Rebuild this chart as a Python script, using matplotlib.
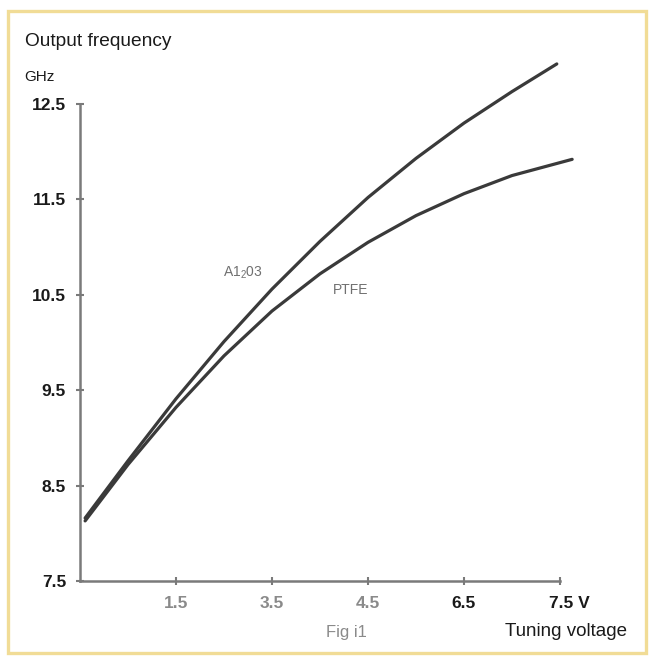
import matplotlib
matplotlib.use("Agg")
import matplotlib.pyplot as plt
from matplotlib.patches import Rectangle
from matplotlib.transforms import ScaledTranslation

plt.rcParams["font.family"] = ["Liberation Sans", "DejaVu Sans"]
plt.rcParams["mathtext.default"] = "regular"

# Tuning voltage (V) and output frequency (GHz) for the two dielectrics
voltage_al2o3 = [0.08, 0.75, 1.5, 2.25, 3.0, 3.75, 4.5, 5.25, 6.0, 6.75, 7.45]
freq_al2o3 = [8.16, 8.76, 9.41, 10.01, 10.56, 11.06, 11.52, 11.93, 12.30, 12.63, 12.92]

voltage_ptfe = [0.08, 0.75, 1.5, 2.25, 3.0, 3.75, 4.5, 5.25, 6.0, 6.75, 7.69]
freq_ptfe = [8.13, 8.72, 9.32, 9.86, 10.33, 10.72, 11.05, 11.33, 11.56, 11.75, 11.92]

x_ticks = [1.5, 3.0, 4.5, 6.0, 7.5]
x_tick_labels = ["1.5", "3.5", "4.5", "6.5", "7.5 V"]
y_ticks = [7.5, 8.5, 9.5, 10.5, 11.5, 12.5]
y_tick_labels = ["7.5", "8.5", "9.5", "10.5", "11.5", "12.5"]

W, H = 650, 657
fig = plt.figure(figsize=(W / 100, H / 100), dpi=100)
fig.patch.set_facecolor("white")

# pale yellow frame around the figure
fig.patches.append(Rectangle((8 / W, 1 - 653 / H), 638 / W, 642 / H,
                             transform=fig.transFigure, fill=False,
                             edgecolor="#f1dc96", lw=2.4))

ax = fig.add_axes([80 / W, (H - 581) / H, 512 / W, 524.7 / H])
ax.set_xlim(0, 8.0)
ax.set_ylim(7.5, 13.0)
ax.patch.set_alpha(0)

line_col = "#3a3a3a"
for v, f in ((voltage_al2o3, freq_al2o3), (voltage_ptfe, freq_ptfe)):
    ax.plot(v, f, color=line_col, lw=2.3,
            solid_capstyle="round", solid_joinstyle="round")

axis_col = "#7a7a7a"
for s in ("top", "right"):
    ax.spines[s].set_visible(False)
ax.spines["left"].set_bounds(7.5, 12.5)
ax.spines["bottom"].set_bounds(0, 7.5)
for s in ("left", "bottom"):
    ax.spines[s].set_color(axis_col)
    ax.spines[s].set_linewidth(1.8)

ax.set_xticks(x_ticks)
ax.set_xticklabels(x_tick_labels, fontsize=12.5, fontweight="bold")
ax.set_yticks(y_ticks)
ax.set_yticklabels(y_tick_labels, fontsize=12.5, fontweight="bold")
ax.tick_params(axis="both", direction="inout", length=6, width=1.5,
               color=axis_col)
ax.tick_params(axis="y", pad=7, labelcolor="#1a1a1a")
ax.tick_params(axis="x", pad=8)

xl = ax.get_xticklabels()
for lab in xl[:3]:
    lab.set_color("#8a8a8a")
for lab in xl[3:]:
    lab.set_color("#1a1a1a")
xl[-1].set_transform(xl[-1].get_transform()
                     + ScaledTranslation(9 / 100, 0, fig.dpi_scale_trans))

# curve labels
ax.text(2.23, 10.73, "A1$_{2}$03", fontsize=10, color="#707070",
        ha="left", va="center")
ax.text(3.95, 10.55, "PTFE", fontsize=10, color="#707070",
        ha="left", va="center")

# axis titles and caption
fig.text(25 / W, 1 - 42 / H, "Output frequency", fontsize=13.8,
         color="#1a1a1a", ha="left", va="center")
fig.text(24 / W, 1 - 77 / H, "GHz", fontsize=11, color="#1a1a1a",
         ha="left", va="center")
fig.text(627 / W, 1 - 632 / H, "Tuning voltage", fontsize=13.5,
         color="#1a1a1a", ha="right", va="center")
fig.text(346 / W, 1 - 632 / H, "Fig i1", fontsize=12, color="#8a8a8a",
         ha="center", va="center")

fig.savefig("out.png", dpi=100, facecolor="white")
